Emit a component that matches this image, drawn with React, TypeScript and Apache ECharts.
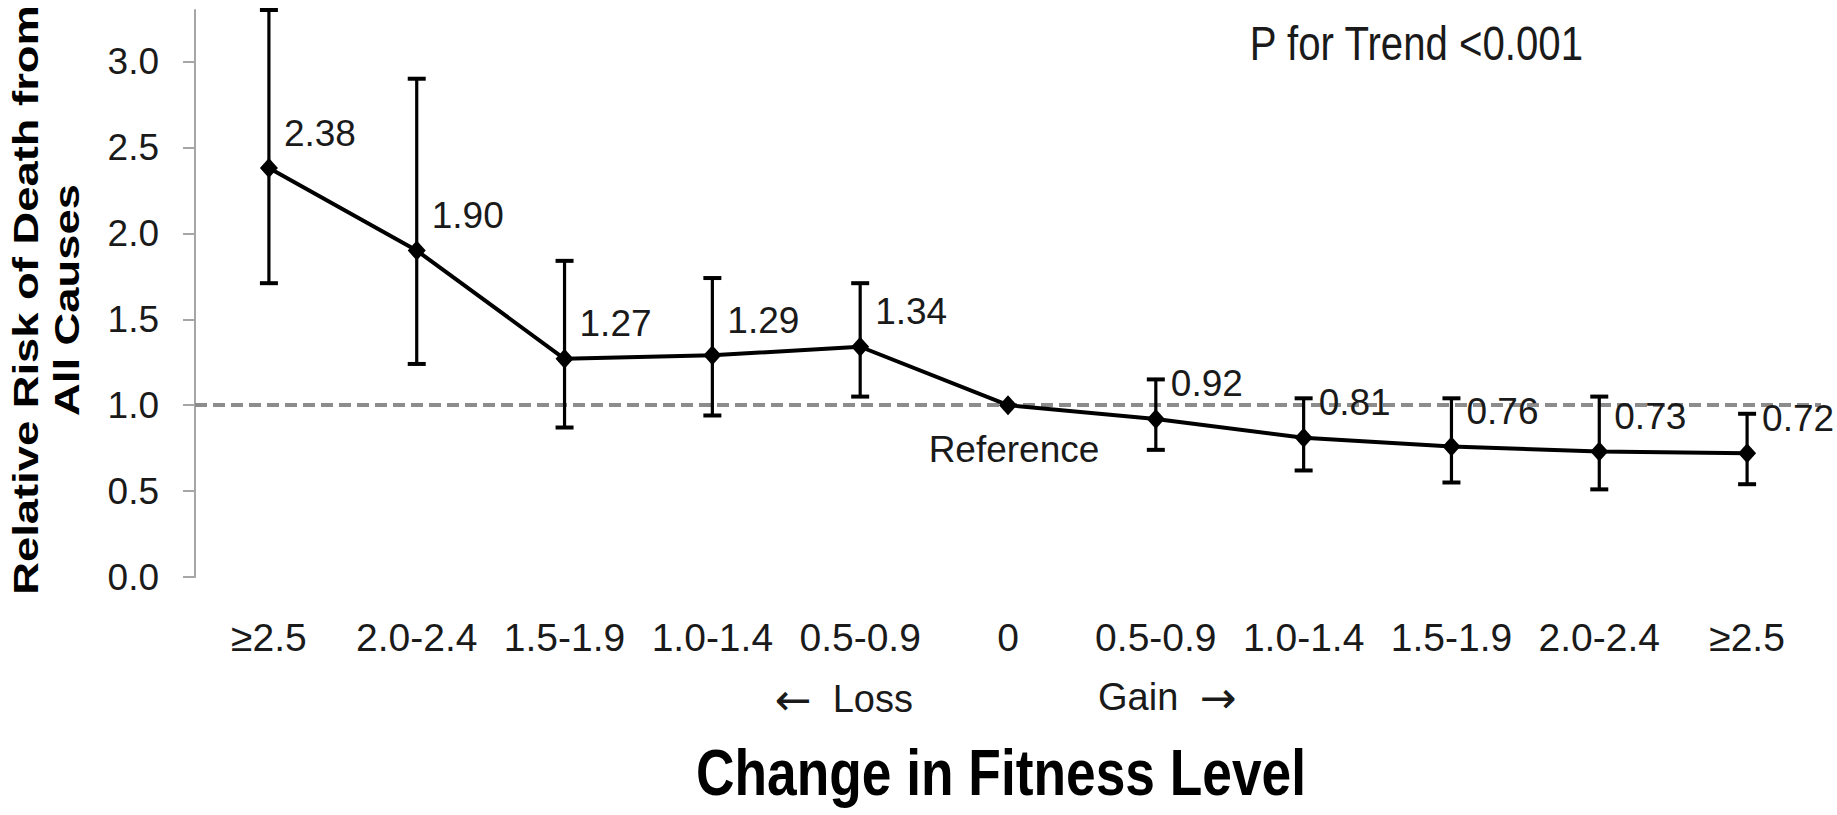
import React, { useEffect, useRef } from "react";
import * as echarts from "echarts";

const categories = ["≥2.5", "2.0-2.4", "1.5-1.9", "1.0-1.4", "0.5-0.9", "0", "0.5-0.9", "1.0-1.4", "1.5-1.9", "2.0-2.4", "≥2.5"];
const riskValues = [2.38, 1.9, 1.27, 1.29, 1.34, 1.0, 0.92, 0.81, 0.76, 0.73, 0.72];
const ciLow = [1.71, 1.24, 0.87, 0.94, 1.05, null, 0.74, 0.62, 0.55, 0.51, 0.54];
const ciHigh = [3.3, 2.9, 1.84, 1.74, 1.71, null, 1.15, 1.04, 1.04, 1.05, 0.95];
const yTicks = [0, 0.5, 1.0, 1.5, 2.0, 2.5, 3.0];
const referenceIndex = 5;
const referenceLevel = 1.0;

const SANS = '"Liberation Sans", Arial, sans-serif';
const ARROW = '"DejaVu Sans", sans-serif';

export default function App() {
  const ref = useRef<HTMLDivElement>(null);
  useEffect(() => {
    document.body.style.margin = "0";
    if (!ref.current) return;
    const chart = echarts.init(ref.current, null, { renderer: "svg" });

    const errData: number[][] = [];
    ciLow.forEach((lo, i) => {
      const hi = ciHigh[i];
      if (lo != null && hi != null) errData.push([i, lo, hi]);
    });

    const lineData = riskValues.map((v, i) =>
      i === referenceIndex
        ? {
            value: v,
            label: { position: "bottom", distance: 16, offset: [6, 0], formatter: "Reference" },
          }
        : v
    );

    chart.setOption({
      animation: false,
      backgroundColor: "#ffffff",
      grid: { left: 195, right: 16, top: 10, bottom: 238, containLabel: false, outerBoundsMode: "none" },
      xAxis: {
        type: "category",
        data: categories,
        boundaryGap: true,
        axisLine: { show: false },
        axisTick: { show: false },
        splitLine: { show: false },
        axisLabel: { interval: 0, fontSize: 39, fontFamily: SANS, color: "#1a1a1a", margin: 41 },
      },
      yAxis: {
        type: "value",
        min: 0,
        max: 3.3,
        splitLine: { show: false },
        axisLine: { show: true, lineStyle: { color: "#a6a6a6", width: 2 } },
        axisTick: { show: true, length: 12, inside: false, customValues: yTicks, lineStyle: { color: "#a6a6a6", width: 2 } },
        axisLabel: {
          customValues: yTicks,
          formatter: (v: number) => v.toFixed(1),
          fontSize: 37,
          fontFamily: SANS,
          color: "#1a1a1a",
          margin: 36,
        },
      },
      series: [
        {
          type: "custom",
          name: "95% CI",
          silent: true,
          z: 2,
          data: errData,
          encode: { x: 0, y: [1, 2] },
          renderItem: (params: any, api: any) => {
            const x = api.value(0);
            const pLo = api.coord([x, api.value(1)]);
            const pHi = api.coord([x, api.value(2)]);
            const hw = 9;
            return {
              type: "group",
              children: [
                { type: "line", shape: { x1: pLo[0], y1: pLo[1], x2: pHi[0], y2: pHi[1] }, style: { stroke: "#000", lineWidth: 3.2 } },
                { type: "line", shape: { x1: pHi[0] - hw, y1: pHi[1], x2: pHi[0] + hw, y2: pHi[1] }, style: { stroke: "#000", lineWidth: 4 } },
                { type: "line", shape: { x1: pLo[0] - hw, y1: pLo[1], x2: pLo[0] + hw, y2: pLo[1] }, style: { stroke: "#000", lineWidth: 4 } },
              ],
            };
          },
        },
        {
          type: "line",
          name: "Relative risk",
          z: 3,
          silent: true,
          data: lineData,
          symbol: "diamond",
          symbolSize: [18, 20],
          showAllSymbol: true,
          itemStyle: { color: "#000" },
          lineStyle: { color: "#000", width: 4 },
          label: {
            show: true,
            position: "right",
            distance: 6,
            offset: [0, -35],
            fontSize: 37,
            fontFamily: SANS,
            color: "#1a1a1a",
            formatter: (p: any) => Number(p.value).toFixed(2),
          },
          markLine: {
            silent: true,
            symbol: ["none", "none"],
            label: { show: false },
            lineStyle: { type: [12, 6], color: "#8c8c8c", width: 4 },
            data: [{ yAxis: referenceLevel }],
            z: 1,
          },
        },
      ],
      graphic: [
        {
          type: "text",
          x: 46,
          y: 300,
          rotation: Math.PI / 2,
          scaleX: 1.26,
          style: {
            text: "Relative Risk of Death from\nAll Causes",
            fontSize: 36,
            fontWeight: "bold",
            fontFamily: SANS,
            lineHeight: 41,
            fill: "#000",
            align: "center",
            verticalAlign: "middle",
          },
        },
        {
          type: "text",
          x: 1583,
          y: 43,
          scaleX: 0.82,
          style: { text: "P for Trend <0.001", fontSize: 49, fontFamily: SANS, fill: "#1a1a1a", align: "right", verticalAlign: "middle" },
        },
        {
          type: "text",
          x: 913,
          y: 699,
          style: {
            text: "{a|←}  Loss",
            fontSize: 38,
            fontFamily: SANS,
            fill: "#1a1a1a",
            align: "right",
            verticalAlign: "middle",
            rich: { a: { fontFamily: ARROW, fontSize: 44, fill: "#1a1a1a" } },
          },
        },
        {
          type: "text",
          x: 1098,
          y: 697,
          style: {
            text: "Gain  {a|→}",
            fontSize: 38,
            fontFamily: SANS,
            fill: "#1a1a1a",
            align: "left",
            verticalAlign: "middle",
            rich: { a: { fontFamily: ARROW, fontSize: 44, fill: "#1a1a1a" } },
          },
        },
        {
          type: "text",
          x: 1001,
          y: 773,
          scaleX: 0.82,
          style: { text: "Change in Fitness Level", fontSize: 65, fontWeight: "bold", fontFamily: SANS, fill: "#000", align: "center", verticalAlign: "middle" },
        },
      ],
    });
    return () => chart.dispose();
  }, []);
  return <div ref={ref} style={{ width: "1837px", height: "815px" }} />;
}
